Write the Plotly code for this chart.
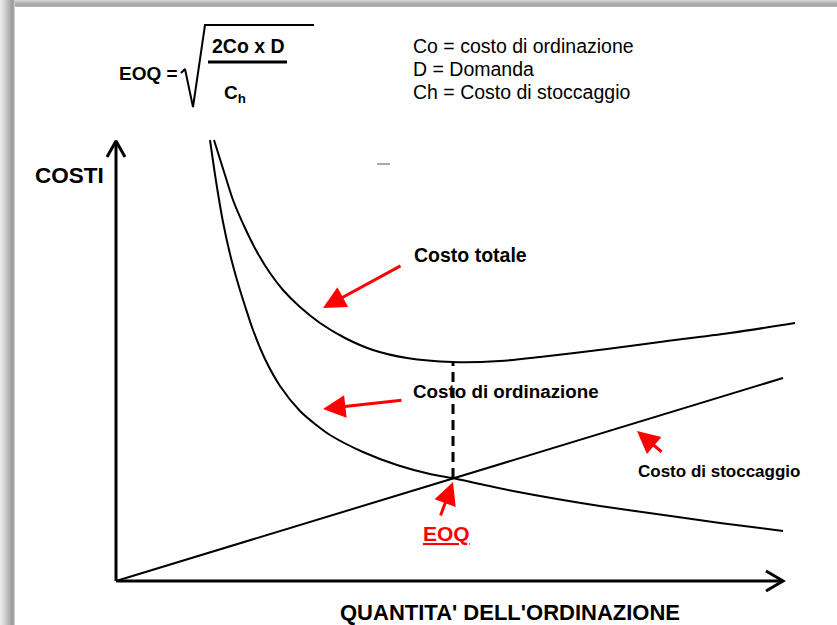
import plotly.graph_objects as go

# units: quantity / cost measured from the origin of the drawn axes
ord_q = [94, 100, 107, 114, 121, 129, 137, 149, 164, 184, 199, 214, 247, 281, 314, 336,
         364, 397, 444, 484, 544, 604, 667]
ord_cost = [441, 400, 359, 327, 301, 275, 251, 222, 195, 170, 157, 146, 129, 116, 107, 103,
            97, 90, 81.5, 75, 66.5, 58, 50]

tot_q = [98, 109, 117, 129, 141, 154, 167, 184, 204, 229, 257, 291, 337, 384, 424, 491,
         544, 614, 679]
tot_cost = [441, 406, 381, 353, 329, 308, 291, 274, 258, 243, 231, 223, 219, 220, 224, 232,
            239, 248, 258]

stock_q = [0, 667]
stock_cost = [0, 203]

eoq_q = 337
eoq_cost = [103, 219]

# axes drawn as arrows
yaxis_x = [0, 0]
yaxis_y = [0, 440]
yhead_x = [-9, 0, 9]
yhead_y = [424, 440, 424]
xaxis_x = [0, 667]
xaxis_y = [0, 0]
xhead_x = [650, 667, 650]
xhead_y = [10, 0, -10]

FONT = "Arial, Liberation Sans, sans-serif"

fig = go.Figure()

def line(xs, ys, width=2, dash=None, shape="linear", color="black"):
    fig.add_trace(go.Scatter(x=xs, y=ys, mode="lines", hoverinfo="skip",
                             line=dict(color=color, width=width, dash=dash, shape=shape,
                                       smoothing=0.8)))

line(ord_q, ord_cost, shape="spline")
line(tot_q, tot_cost, shape="spline")
line(stock_q, stock_cost)
line([eoq_q, eoq_q], eoq_cost, width=3, dash="10px,6px")
line(yaxis_x, yaxis_y, width=3)
line(yhead_x, yhead_y, width=3)
line(xaxis_x, xaxis_y, width=3)
line(xhead_x, xhead_y, width=3)

# formula pieces
line([65, 69, 77, 89, 198], [508, 512, 474, 556, 556], width=2)
line([92, 171], [519, 519], width=3)
line([261, 274], [417, 417], width=1, color="#555555")

# red arrows: (tail, head)
arrows = [((286, 316), (207, 273)),
          ((287, 181), (207, 172)),
          ((547, 128), (521, 150)),
          ((324, 64), (337, 99))]
for (tx, ty), (hx, hy) in arrows:
    fig.add_annotation(x=hx, y=hy, ax=tx, ay=ty, xref="x", yref="y", axref="x", ayref="y",
                       text="", showarrow=True, arrowhead=2, arrowsize=1.5,
                       arrowwidth=3, arrowcolor="red")

def label(x, y, text, size=18, anchor="left", color="black"):
    fig.add_annotation(x=x, y=y, xref="x", yref="y", text=text, showarrow=False,
                       xanchor=anchor, yanchor="middle",
                       font=dict(family=FONT, size=size, color=color))

label(296, 326, "<b>Costo totale</b>", size=19.5)
label(295, 190, "<b>Costo di ordinazione</b>", size=18.8)
label(520, 110, "<b>Costo di stoccaggio</b>", size=17)
label(330, 48, "<b><u>EOQ</u></b>", size=21, anchor="center", color="red")
label(-83, 406, "<b>COSTI</b>", size=22.5)
label(394, -31, "<b>QUANTITA' DELL'ORDINAZIONE</b>", size=22, anchor="center")

label(1, 508, "<b>EOQ =</b>", size=19)
label(94, 535, "<b>2Co x D</b>", size=19.5)
label(106, 487, "<b>C<sub>h</sub></b>", size=19)
label(295, 535, "Co = costo di ordinazione", size=19.5)
label(295, 512, "D = Domanda", size=19.5)
label(295, 489, "Ch = Costo di stoccaggio", size=19.5)

# drop shadow along top and left edges
W, H = 837, 625
top_greys = ["#d4d4d4", "#c4c4c4", "#b8b8b8", "#b0b0b0", "#aaaaaa", "#a6a6a6", "#b4b4b4"]
for i, c in enumerate(top_greys):
    fig.add_shape(type="rect", xref="paper", yref="paper", x0=0, x1=1,
                  y0=1 - (i + 1) / H, y1=1 - i / H, fillcolor=c, line_width=0, layer="below")
left_greys = ["#ececec", "#e6e6e6", "#e0e0e0", "#dadada", "#d4d4d4", "#cdcdcd", "#c6c6c6",
              "#bfbfbf", "#b8b8b8", "#b0b0b0", "#a8a8a8", "#a0a0a0", "#9c9c9c", "#a8a8a8",
              "#cccccc"]
for i, c in enumerate(left_greys):
    fig.add_shape(type="rect", xref="paper", yref="paper", x0=i / W, x1=(i + 1) / W,
                  y0=0, y1=1, fillcolor=c, line_width=0, layer="below")

fig.update_layout(
    width=W, height=H, margin=dict(l=0, r=0, t=0, b=0),
    paper_bgcolor="white", plot_bgcolor="white", showlegend=False,
    xaxis=dict(range=[-116, 721], visible=False, fixedrange=True),
    yaxis=dict(range=[-44, 581], visible=False, fixedrange=True),
)

fig.write_html("out.html", config={"displayModeBar": False},
               post_script="document.body.style.margin='0';document.body.style.overflow='hidden';")
